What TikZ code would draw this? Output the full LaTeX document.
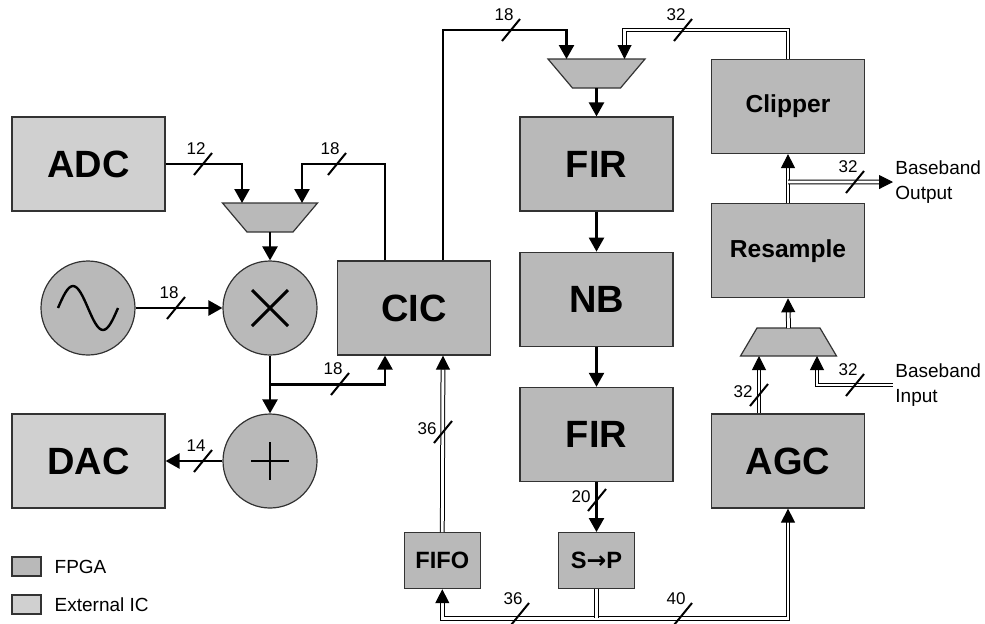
\documentclass[tikz,border=0pt]{standalone}
\usepackage{fontspec}
\setmainfont{Liberation Sans}
\newfontfamily\arrowfont{DejaVu Sans}
\usepackage{tikz}
\usetikzlibrary{positioning, calc, arrows.meta}

\tikzset{
    buswidth/.style={font=\fontsize{8.5}{9}\selectfont, inner sep=0.5pt},
    pics/slash/.style={code={
        \draw[line width=1pt] (-4.5pt,-5.5pt) -- (4.5pt,5.5pt);
        \node[buswidth, anchor=south east] at (2pt,4pt) {#1};
    }},
    pics/vslash/.style={code={
        \draw[line width=1pt] (-4.5pt,-5.5pt) -- (4.5pt,5.5pt);
        \node[buswidth, anchor=east] at (-2.5pt,1.5pt) {#1};
    }}
}

\begin{document}
\begin{tikzpicture}[
    x=0.5pt, y=-0.5pt,
    node distance=20pt,
    every node/.style={font=\fontsize{9.5}{11}\selectfont},
    fpga/.style={rectangle, draw=black!80, line width=0.6pt, fill=gray!55, minimum width=76.5pt, minimum height=47pt, font=\fontsize{19}{20}\selectfont\bfseries},
    extic/.style={fpga, fill=gray!37},
    smallbox/.style={fpga, minimum width=38pt, minimum height=28pt, font=\fontsize{11.8}{13}\selectfont\bfseries},
    midbox/.style={fpga, font=\fontsize{12.3}{14}\selectfont\bfseries},
    op/.style={circle, draw=black!80, line width=0.6pt, fill=gray!55, minimum size=47pt, inner sep=0pt},
    muxshape/.style={draw=black!80, line width=0.6pt, fill=gray!55},
    wire/.style={line width=1.2pt, -{Triangle[length=7pt, width=7.5pt]}},
    bus/.style={double, line width=0.5pt, double distance=1.4pt, -{Triangle[length=7pt, width=7pt]}},
    io/.style={align=left, inner sep=1pt, font=\fontsize{9.5}{12.5}\selectfont}
]
\useasboundingbox (0,0) rectangle (985,623);

% Blocks
\node[extic] (adc) at (88.5,164) {ADC};
\node[extic] (dac) at (88.5,461) {DAC};
\node[op] (osc) at (88,308) {};
\node[op] (mult) at (270,308) {};
\node[op] (add) at (270,461) {};
\node[fpga] (cic) at (414,308) {CIC};
\node[fpga] (fir1) at (596.5,164) {FIR};
\node[fpga, below=of fir1] (nb) {NB};
\node[fpga, below=of nb] (fir2) {FIR};
\node[smallbox, below=25pt of fir2] (sp) {S{\arrowfont →}P};
\node[smallbox, left=38.5pt of sp] (fifo) {FIFO};
\node[midbox] (clip) at (788,106.5) {Clipper};
\node[midbox, below=24.5pt of clip] (res) {Resample};
\node[fpga] (agc) at (788,461) {AGC};
\node[io, anchor=west] (bbout) at (893,182) {Baseband\\Output};
\node[io, anchor=west] (bbin) at (893,385) {Baseband\\Input};

% Multiplexers
\coordinate (mux1) at (270,217.5);
\coordinate (mux2) at (596.5,73.5);
\coordinate (mux3) at (788.5,342);
\filldraw[muxshape, shift={(mux1)}] (-47.5,-14.5) -- (47.5,-14.5) -- (23,14.5) -- (-23,14.5) -- cycle;
\filldraw[muxshape, shift={(mux2)}] (-48.5,-14.5) -- (48.5,-14.5) -- (24,14.5) -- (-24,14.5) -- cycle;
\filldraw[muxshape, shift={(mux3)}] (-31.5,-14) -- (31.5,-14) -- (48,14) -- (-48,14) -- cycle;

% Symbols
\draw[line width=1.2pt] ($(osc)+(-30,0)$) sin ++(15,-22) cos ++(15,22) sin ++(15,22) cos ++(15,-22);
\draw[line width=1.5pt] ($(mult)+(-18,-18)$) -- ($(mult)+(18,18)$) ($(mult)+(-18,18)$) -- ($(mult)+(18,-18)$);
\draw[line width=0.8pt] ($(add)+(-19,0)$) -- ($(add)+(19,0)$) ($(add)+(0,-19)$) -- ($(add)+(0,19)$);

% Ports
\coordinate (m1a) at ($(mux1)+(-28,-14.5)$);
\coordinate (m1b) at ($(mux1)+(32,-14.5)$);
\coordinate (m1o) at ($(mux1)+(0,14.5)$);
\coordinate (m2a) at ($(mux2)+(-30,-14.5)$);
\coordinate (m2b) at ($(mux2)+(28,-14.5)$);
\coordinate (m2o) at ($(mux2)+(0,14.5)$);
\coordinate (m3a) at ($(mux3)+(-29.5,14)$);
\coordinate (m3b) at ($(mux3)+(28.5,14)$);
\coordinate (m3o) at ($(mux3)+(0,-14)$);
\coordinate (cicnw) at ($(cic.north)+(-29,0)$);
\coordinate (cicne) at ($(cic.north)+(29,0)$);
\coordinate (cicsw) at ($(cic.south)+(-29,0)$);
\coordinate (cicse) at ($(cic.south)+(29,0)$);
\coordinate (tap1) at ($(mult.south)!0.5!(add.north)$);
\coordinate (tap2) at ($(res.north)!0.43!(clip.south)$);
\coordinate (busj) at ($(sp.south)+(0,29)$);

% Wires
\draw[wire] (adc.east) -| (m1a);
\draw[wire] (cicnw) |- (m1b |- adc.east) -- (m1b);
\draw[wire] (m1o) -- (mult.north);
\draw[wire] (osc.east) -- (mult.west);
\draw[wire] (mult.south) -- (add.north);
\draw[wire] (tap1) -| (cicsw);
\draw[wire] (add.west) -- (dac.east);
\draw[wire] (cicne) |- ($(m2a)+(0,-29)$) -- (m2a);
\draw[bus] (clip.north) |- ($(m2b)+(0,-29)$) -- (m2b);
\draw[wire] (m2o) -- (fir1.north);
\draw[wire] (fir1.south) -- (nb.north);
\draw[wire] (nb.south) -- (fir2.north);
\draw[wire] (fir2.south) -- (sp.north);
\draw[bus] (fifo.north) -- (cicse);
\draw[bus, {Triangle[length=7pt, width=7pt]}-{Triangle[length=7pt, width=7pt]}] (fifo.south) |- (busj) -| (agc.south);
\draw[bus, -] (sp.south) -- (busj);
\draw[bus] (agc.north -| m3a) -- (m3a);
\draw[bus] (bbin.west) -| (m3b);
\draw[bus] (m3o) -- (res.south);
\draw[bus] (res.north) -- (clip.south);
\draw[bus] (tap2) -- (bbout.west);

% Bus widths
\pic at (203,164) {slash=12};
\pic at (337,164) {slash=18};
\pic at (176,308) {slash=18};
\pic at (340,384) {slash=18};
\pic at (203,461) {slash=14};
\pic at (511,30) {slash=18};
\pic at (683,30) {slash=32};
\pic at (443,432) {vslash=36};
\pic at (597,500) {vslash=20};
\pic at (520,614) {slash=36};
\pic at (683,614) {slash=40};
\pic at (759,395) {vslash=32};
\pic at (855,385) {slash=32};
\pic at (855,182) {slash=32};

% Key
\node[fpga, minimum width=14.5pt, minimum height=9.5pt] (keyfpga) at (26.5,566.5) {};
\node[right=3pt of keyfpga] (keyfpgatxt) {FPGA};
\node[extic, minimum width=14.5pt, minimum height=9.5pt] (keyext) at (26.5,604.5) {};
\node[right=3pt of keyext] (keyexttxt) {External IC};

\end{tikzpicture}
\end{document}
